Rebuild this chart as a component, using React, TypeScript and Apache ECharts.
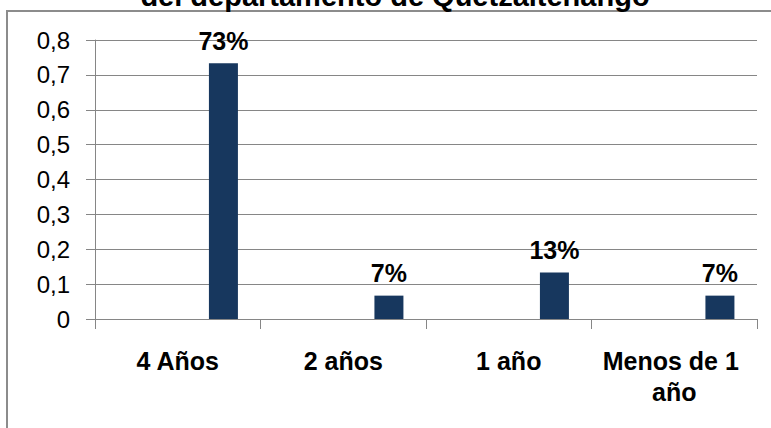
import React, { useEffect, useRef } from "react";
import * as echarts from "echarts";

const titleText = "del departamento de Quetzaltenango";
const categories = ["4 Años", "2 años", "1 año", "Menos de 1 año"];
const values = [0.733, 0.067, 0.133, 0.067];
const emptySeries = [null, null, null, null];

export default function App() {
  const ref = useRef<HTMLDivElement>(null);
  useEffect(() => {
    if (!ref.current) return;
    const chart = echarts.init(ref.current, null, { renderer: "svg" });
    chart.setOption({
      animation: false,
      backgroundColor: "#ffffff",
      grid: { left: 95, right: 14, top: 40, bottom: 109, containLabel: false },
      graphic: [
        {
          type: "rect",
          shape: { x: 7, y: 11, width: 820, height: 500 },
          style: { fill: "none", stroke: "#8c8c8c", lineWidth: 2 },
          silent: true,
          z: 0,
        },
        {
          type: "text",
          x: 395,
          y: -4,
          style: {
            text: titleText,
            font: "bold 29px 'Liberation Sans', Arial, sans-serif",
            fill: "#000",
            align: "center",
            verticalAlign: "middle",
          },
          z: 10,
        },
      ],
      xAxis: {
        type: "category",
        data: categories,
        axisLine: { show: true, lineStyle: { color: "#868686", width: 1 } },
        axisTick: { show: true, length: 10, lineStyle: { color: "#868686" } },
        axisLabel: {
          interval: 0,
          margin: 26,
          color: "#000",
          fontFamily: "'Liberation Sans', Arial, sans-serif",
          fontWeight: "bold",
          fontSize: 25,
          lineHeight: 31,
          width: 160,
          overflow: "break",
        },
        splitLine: { show: false },
      },
      yAxis: {
        type: "value",
        min: 0,
        max: 0.8,
        interval: 0.1,
        axisLine: { show: true, lineStyle: { color: "#868686", width: 1 } },
        axisTick: { show: true, length: 9, lineStyle: { color: "#868686" } },
        axisLabel: {
          margin: 25,
          color: "#000",
          fontFamily: "'Liberation Sans', Arial, sans-serif",
          fontSize: 24,
          formatter: (v: number) => (Math.round(v * 10) / 10).toString().replace(".", ","),
        },
        splitLine: { show: true, lineStyle: { color: "#868686", width: 1 } },
      },
      series: [
        {
          type: "bar",
          data: emptySeries,
          barWidth: 29,
          barGap: "215%",
          itemStyle: { color: "#4F81BD" },
        },
        {
          type: "bar",
          data: values,
          barWidth: 29,
          itemStyle: { color: "#17375E" },
          label: {
            show: true,
            position: "top",
            distance: 10,
            color: "#000",
            fontFamily: "'Liberation Sans', Arial, sans-serif",
            fontWeight: "bold",
            fontSize: 25,
            formatter: (p: any) => Math.round(p.value * 100) + "%",
          },
        },
      ],
    });
    return () => chart.dispose();
  }, []);
  return (
    <div
      ref={ref}
      style={{ position: "absolute", left: 0, top: 0, width: 771, height: 428 }}
    />
  );
}
